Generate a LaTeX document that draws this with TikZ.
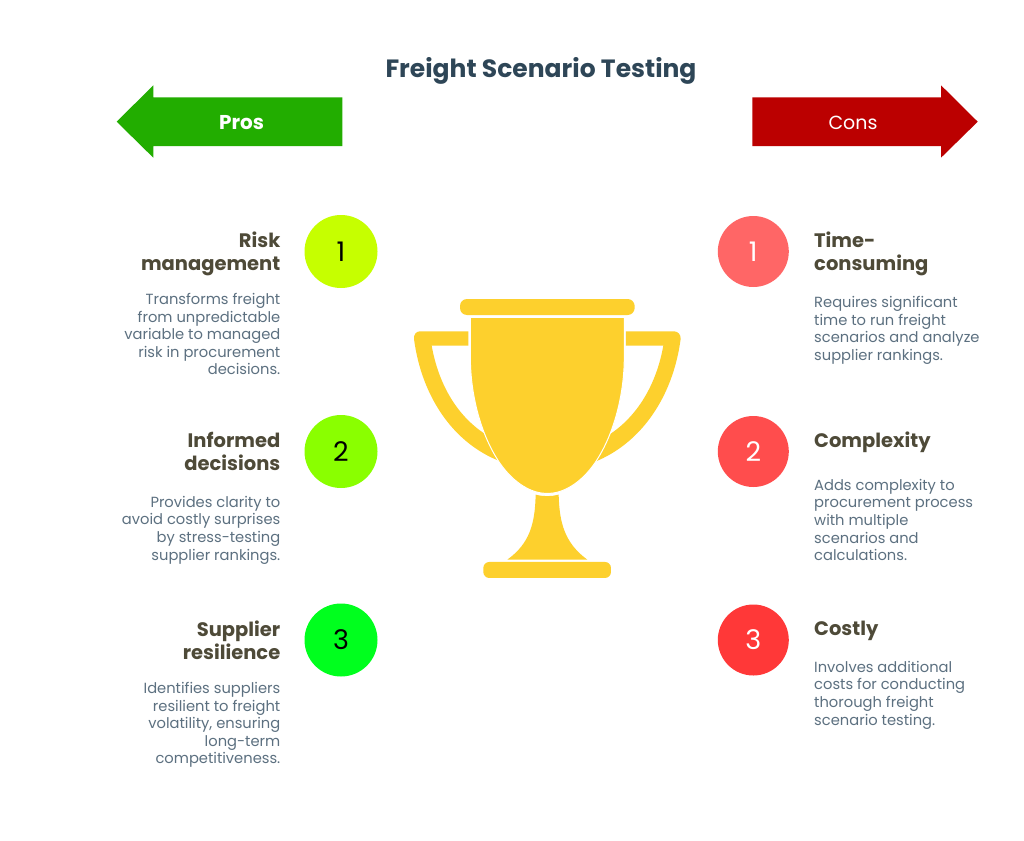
\documentclass[tikz,border=0pt]{standalone}
\usepackage{fontspec}
\setmainfont{Poppins}
\definecolor{titlec}{HTML}{2E4657}
\definecolor{headc}{HTML}{4E4A38}
\definecolor{bodyc}{HTML}{5C7080}
\definecolor{gold}{HTML}{FDD02D}
\definecolor{prosg}{HTML}{22AD00}
\definecolor{consr}{HTML}{BB0000}
\tikzset{
  x=1pt,y=-1pt,
  badge/.style={circle,inner sep=0pt,minimum size=73pt,font=\fontsize{27}{27}\selectfont,text=#1},
  lefthead/.style={anchor=north east,align=right,inner sep=0pt,text=headc,font=\fontsize{19.5}{23.2}\selectfont\bfseries},
  leftbody/.style={anchor=north east,align=right,inner sep=0pt,text=bodyc,font=\fontsize{14.7}{17.6}\selectfont},
  righthead/.style={anchor=north west,align=left,inner sep=0pt,text=headc,font=\fontsize{19.5}{23.2}\selectfont\bfseries},
  rightbody/.style={anchor=north west,align=left,inner sep=0pt,text=bodyc,font=\fontsize{14.7}{17.6}\selectfont},
  trophy/.style={fill=gold,draw=none},
}
\begin{document}
\begin{tikzpicture}
\useasboundingbox[fill=white] (0,0) rectangle (1024,840);
\node[text=titlec,font=\fontsize{25}{30}\selectfont\bfseries] (title) at (541,71) {Freight Scenario Testing};
% arrows
\fill[prosg] (116.7,121.7) -- (153.3,85.3) -- (153.3,97.3) -- (342.3,97.3) -- (342.3,146) -- (153.3,146) -- (153.3,157.7) -- cycle;
\node[text=white,font=\fontsize{20}{24}\selectfont\bfseries] (pros) at (241.5,123) {Pros};
\fill[consr] (977.7,121.7) -- (941,85.3) -- (941,97.3) -- (752.3,97.3) -- (752.3,146) -- (941,146) -- (941,157.7) -- cycle;
\node[text=white,font=\fontsize{19}{23}\selectfont] (cons) at (853,123) {Cons};
% trophy
\begin{scope}[shift={(400,290)},x=0.3333pt,y=-0.3333pt]
\fill[trophy,rounded corners=7pt] (180,27) rectangle (704,75);
\fill[trophy,rounded corners=6pt] (250,816) rectangle (633,864);
\fill[trophy] (205,124) -- (60,124) .. controls (48,124) and (41,134) .. (42,147)
   .. controls (65,320) and (160,460) .. (301,514) -- (300,480) -- (263,437)
   .. controls (170,380) and (115,280) .. (95,167) -- (205,167) -- cycle;
\fill[trophy] (678,124) -- (822,124) .. controls (834,124) and (843,134) .. (842,147)
   .. controls (819,320) and (724,460) .. (583,516) -- (590,480) -- (623,437)
   .. controls (714,380) and (770,280) .. (790,167) -- (678,167) -- cycle;
\fill[trophy] (407,614) .. controls (430,620) and (454,620) .. (476,614)
   .. controls (478,700) and (495,760) .. (562,809) -- (322,809)
   .. controls (390,760) and (405,700) .. (407,614) -- cycle;
\filldraw[fill=gold,draw=white,line width=1pt] (211,82) -- (673,82) -- (673,200)
   .. controls (673,320) and (639,440) .. (584,520)
   .. controls (544,578) and (489,612) .. (442,610)
   .. controls (395,612) and (340,578) .. (300,520)
   .. controls (245,440) and (211,320) .. (211,200) -- cycle;
\end{scope}
% pros
\node[badge=black,fill={rgb,255:red,198;green,255;blue,0}] (p1) at (341,251.5) {1};
\node[badge=black,fill={rgb,255:red,138;green,255;blue,0}] (p2) at (341,451.5) {2};
\node[badge=black,fill={rgb,255:red,0;green,255;blue,30}] (p3) at (341,640) {3};
\node[lefthead] (p1h) at (280.5,231.5) {Risk\\management};
\node[leftbody] (p1b) at (280.5,293) {Transforms freight\\from unpredictable\\variable to managed\\risk in procurement\\decisions.};
\node[lefthead] (p2h) at (280.5,432) {Informed\\decisions};
\node[leftbody] (p2b) at (280.5,496) {Provides clarity to\\avoid costly surprises\\by stress-testing\\supplier rankings.};
\node[lefthead] (p3h) at (280.5,620.5) {Supplier\\resilience};
\node[leftbody] (p3b) at (280.5,682) {Identifies suppliers\\resilient to freight\\volatility, ensuring\\long-term\\competitiveness.};
% cons
\node[badge=white,minimum size=71pt,fill={rgb,255:red,255;green,102;blue,102}] (c1) at (753.3,251.5) {1};
\node[badge=white,minimum size=71pt,fill={rgb,255:red,255;green,77;blue,77}] (c2) at (753.3,451.5) {2};
\node[badge=white,minimum size=71pt,fill={rgb,255:red,255;green,56;blue,56}] (c3) at (753.3,640) {3};
\node[righthead] (c1h) at (814,231.5) {Time-\\consuming};
\node[rightbody] (c1b) at (814,296) {Requires significant\\time to run freight\\scenarios and analyze\\supplier rankings.};
\node[righthead] (c2h) at (814,432) {Complexity};
\node[rightbody] (c2b) at (814,479) {Adds complexity to\\procurement process\\with multiple\\scenarios and\\calculations.};
\node[righthead] (c3h) at (814,620.5) {Costly};
\node[rightbody] (c3b) at (814,661) {Involves additional\\costs for conducting\\thorough freight\\scenario testing.};
\end{tikzpicture}
\end{document}
